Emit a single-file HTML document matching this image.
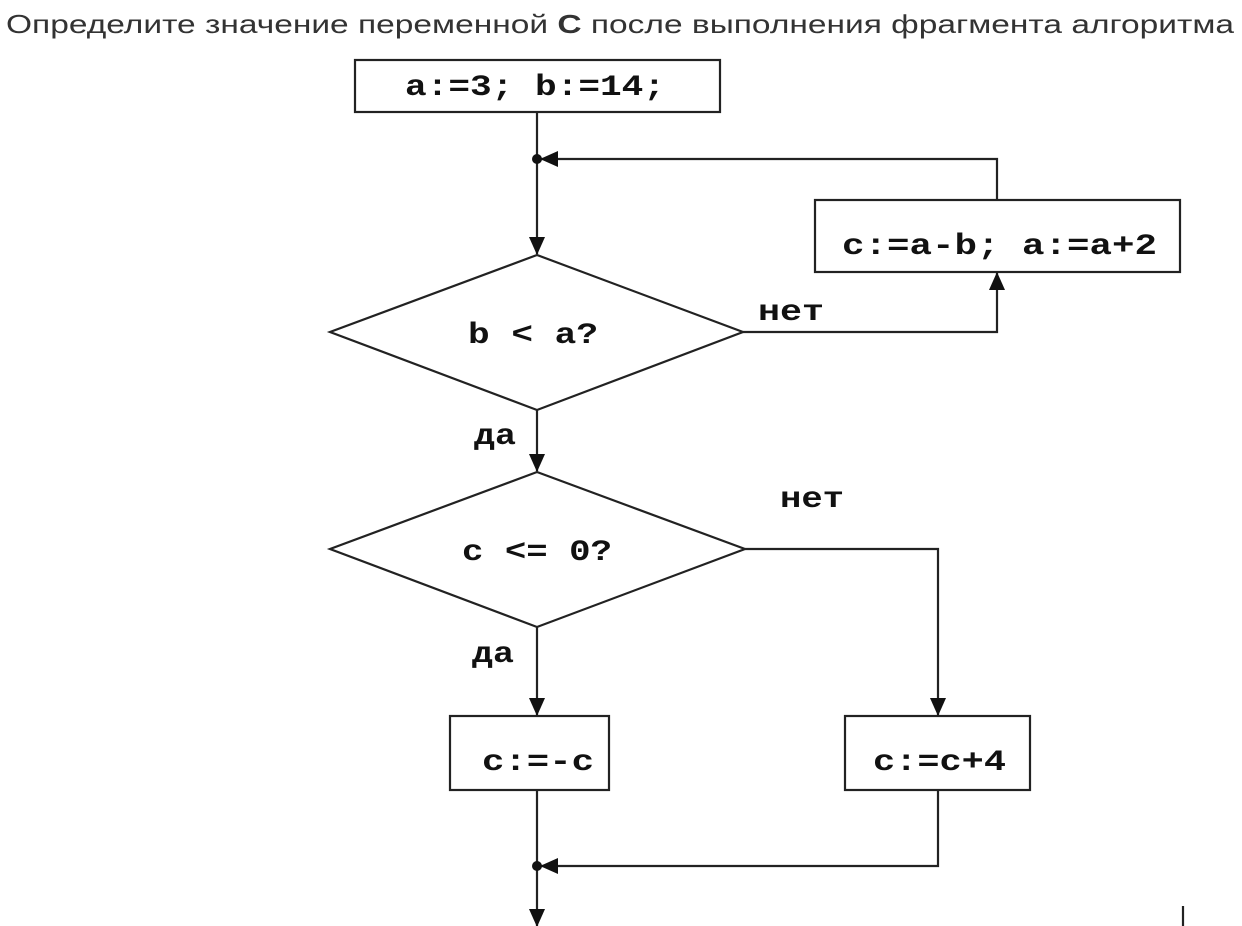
<!DOCTYPE html>
<html><head><meta charset="utf-8"><style>
body{margin:0;background:#fff;width:1242px;height:926px;overflow:hidden;}
svg{display:block}
.m{font-family:"Liberation Mono",monospace;font-weight:bold;font-size:30px;fill:#111}
.t{font-family:"Liberation Sans","DejaVu Sans",sans-serif;font-size:26px;fill:#333}
</style></head><body>
<svg width="1242" height="926" viewBox="0 0 1242 926">
<defs><marker id="a" markerWidth="18" markerHeight="18" refX="17" refY="9" orient="auto" markerUnits="userSpaceOnUse"><path d="M0,1 L18,9 L0,17Z" fill="#111"/></marker></defs>
<text x="6" y="33" class="t" textLength="1228" lengthAdjust="spacingAndGlyphs">Определите значение переменной <tspan font-weight="bold">С</tspan> после выполнения фрагмента алгоритма</text>
<g stroke="#222" stroke-width="2.2" fill="none">
<rect x="355" y="60" width="365" height="52"/>
<rect x="815" y="200" width="365" height="72"/>
<polygon points="537,255 743,332 537,410 330,332"/>
<polygon points="537,472 745,549 537,627 330,549"/>
<rect x="450" y="716" width="159" height="74"/>
<rect x="845" y="716" width="185" height="74"/>
<line x1="537" y1="112" x2="537" y2="254" marker-end="url(#a)"/>
<polyline points="997,200 997,159 541,159" marker-end="url(#a)"/>
<polyline points="743,332 997,332 997,273" marker-end="url(#a)"/>
<line x1="537" y1="410" x2="537" y2="471" marker-end="url(#a)"/>
<polyline points="745,549 938,549 938,715" marker-end="url(#a)"/>
<line x1="537" y1="627" x2="537" y2="715" marker-end="url(#a)"/>
<line x1="537" y1="790" x2="537" y2="926" marker-end="url(#a)"/>
<polyline points="938,790 938,866 541,866" marker-end="url(#a)"/>
<line x1="1183" y1="906" x2="1183" y2="926"/>
</g>
<circle cx="537" cy="159" r="5" fill="#111"/>
<circle cx="537" cy="866" r="5" fill="#111"/>
<text x="405" y="95" class="m" textLength="260" lengthAdjust="spacingAndGlyphs">a:=3; b:=14;</text>
<text x="842" y="254" class="m" textLength="315" lengthAdjust="spacingAndGlyphs">c:=a-b; a:=a+2</text>
<text x="468" y="343" class="m" textLength="130" lengthAdjust="spacingAndGlyphs">b &lt; a?</text>
<text x="462" y="560" class="m" textLength="150" lengthAdjust="spacingAndGlyphs">c &lt;= 0?</text>
<text x="482" y="770" class="m" textLength="112" lengthAdjust="spacingAndGlyphs">c:=-c</text>
<text x="873" y="770" class="m" textLength="133" lengthAdjust="spacingAndGlyphs">c:=c+4</text>
<text x="758" y="320" class="m" font-size="26" textLength="66" lengthAdjust="spacingAndGlyphs">нет</text>
<text x="780" y="507" class="m" font-size="26" textLength="64" lengthAdjust="spacingAndGlyphs">нет</text>
<text x="474" y="444" class="m" font-size="26" textLength="42" lengthAdjust="spacingAndGlyphs">да</text>
<text x="472" y="662" class="m" font-size="26" textLength="42" lengthAdjust="spacingAndGlyphs">да</text>
</svg>
</body></html>
